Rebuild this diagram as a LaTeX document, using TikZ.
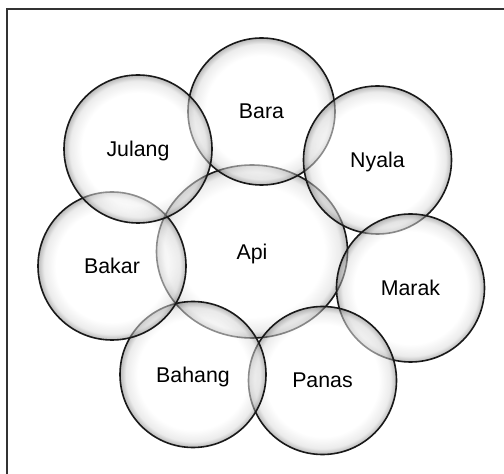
\documentclass[tikz,border=0pt]{standalone}
\usepackage{fontspec}
\setmainfont{Liberation Sans}
\usetikzlibrary{shapes.geometric}
\pgfdeclareradialshading{bubbleshade}{\pgfpoint{0bp}{0bp}}{color(0bp)=(white); color(19bp)=(white); color(23bp)=(black!15); color(25bp)=(black!55); color(50bp)=(black!55)}
\begin{document}
\begin{tikzpicture}[x=0.75pt,y=-0.75pt,
  bubblebase/.style={draw=black!90, line width=1.2pt, shading=bubbleshade, fill opacity=0.5, text opacity=1, draw opacity=1, inner sep=0pt, font=\fontsize{16}{19}\selectfont, text depth=0pt},
  bubble/.style={bubblebase, circle, minimum size=#1*1.5pt},
  frameline/.style={draw=black!80, line width=1.3pt}
]
\useasboundingbox (0,0) rectangle (504,474);
\draw[frameline] (7,9.3) rectangle (540,510);
\node[bubblebase, ellipse, minimum width=143.25pt, minimum height=129.75pt] (api) at (252,251.5) {Api};
\node[bubble=73.5] (bara) at (261.5,111.5) {Bara};
\node[bubble=74] (nyala) at (377.5,160) {Nyala};
\node[bubble=74] (marak) at (410.5,288) {Marak};
\node[bubble=74] (panas) at (322.5,380.5) {Panas};
\node[bubble=73] (bahang) at (193,374.5) {Bahang};
\node[bubble=74] (bakar) at (112,266) {Bakar};
\node[bubble=74] (julang) at (138,149) {Julang};
\end{tikzpicture}
\end{document}
